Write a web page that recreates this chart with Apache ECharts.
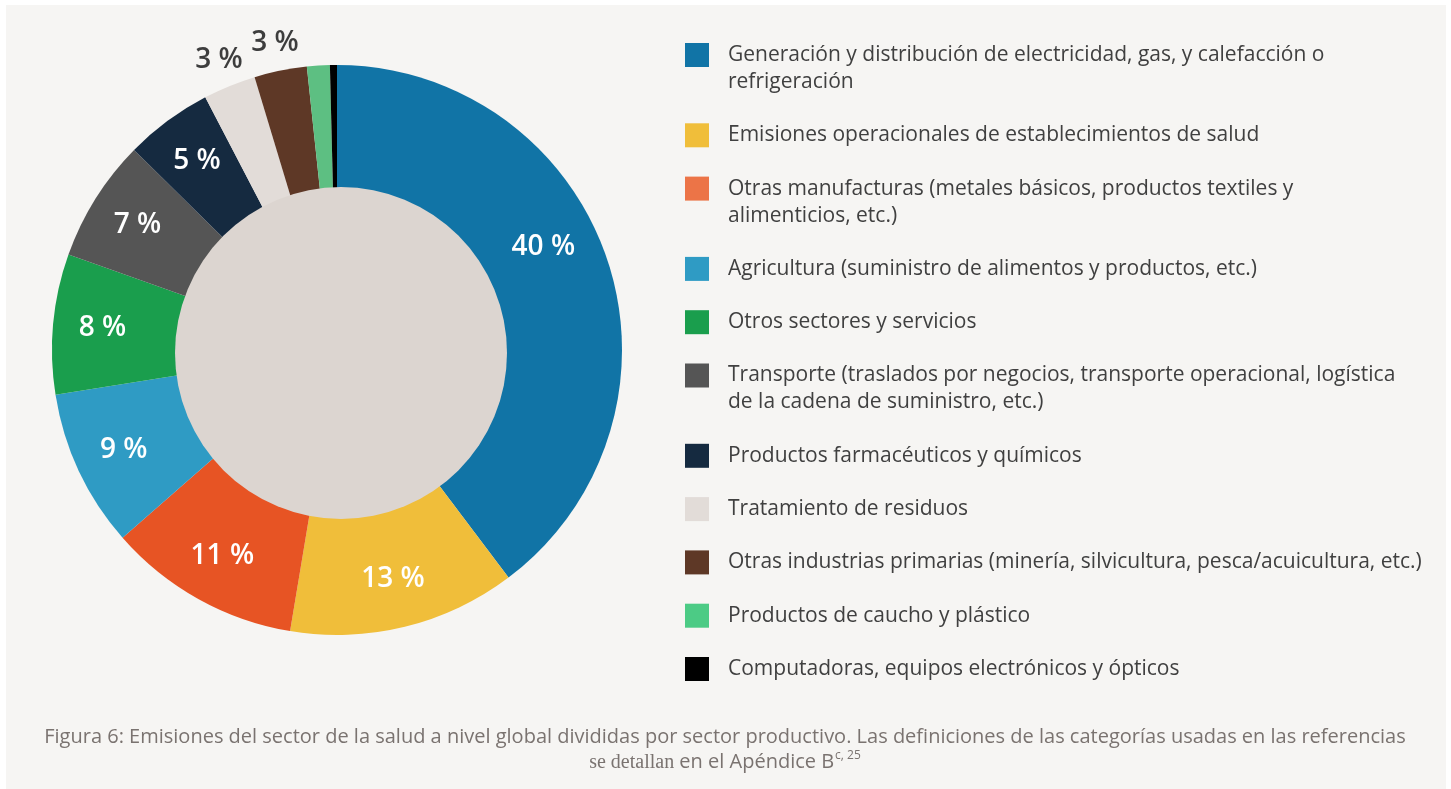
<!DOCTYPE html>
<html>
<head>
<meta charset="utf-8">
<script src="https://cdn.jsdelivr.net/npm/echarts@6/dist/echarts.min.js"></script>
<style>
  html, body { margin: 0; padding: 0; background: #ffffff; }
  #chart { position: absolute; left: 6px; top: 5px; width: 1440px; height: 784px; }
</style>
</head>
<body>
<div id="chart"></div>
<script>
// sectores (el salto de línea marca dónde corta la leyenda)
const sectors = [
  'Generación y distribución de electricidad, gas, y calefacción o\nrefrigeración',
  'Emisiones operacionales de establecimientos de salud',
  'Otras manufacturas (metales básicos, productos textiles y\nalimenticios, etc.)',
  'Agricultura (suministro de alimentos y productos, etc.)',
  'Otros sectores y servicios',
  'Transporte (traslados por negocios, transporte operacional, logística\nde la cadena de suministro, etc.)',
  'Productos farmacéuticos y químicos',
  'Tratamiento de residuos',
  'Otras industrias primarias (minería, silvicultura, pesca/acuicultura, etc.)',
  'Productos de caucho y plástico',
  'Computadoras, equipos electrónicos y ópticos'
];
// porcentaje de emisiones
const shares = [40, 13, 11, 9, 8, 7, 5, 3, 3, 1.3, 0.4];

const colors = ['#1174a6', '#f0be3a', '#e75424', '#2f9bc4', '#1a9e4d', '#555555',
  '#152a40', '#e2dcd8', '#5e3826', '#5dbf82', '#000000'];
// en la leyenda algunos cuadros salen un poco más claros
const legendColors = ['#1174a6', '#f0be3a', '#ec7447', '#2f9bc4', '#1a9e4d', '#555555',
  '#152a40', '#e2dcd8', '#5e3826', '#4ccb85', '#000000'];
// dónde va cada etiqueta: dentro del anillo, fuera, o sin etiqueta
const labelPlace = ['in', 'in', 'in', 'in', 'in', 'in', 'in', 'out', 'out', 'none', 'none'];

const cx = 331, cy = 345;
const textFont = 'Open Sans';
var myChart = echarts.init(document.getElementById('chart'));

function labelData(where, color) {
  return sectors.map(function (name, i) {
    var lbl = { show: labelPlace[i] === where, color: color };
    // el 40 % está algo más arriba que el centro del sector
    if (i === 0) {
      lbl.padding = [0, 34, 0, 0];
      lbl.formatter = '{c} %\n\n';
      lbl.lineHeight = 28;
    }
    return {
      name: name,
      value: shares[i],
      itemStyle: { color: 'rgba(0,0,0,0)' },
      label: lbl
    };
  });
}

const labelFont = { fontFamily: textFont, fontSize: 28, fontWeight: 600 };

// una leyenda por fila para que el cuadrado quede en la primera línea
var legends = [];
var yc = 55;
sectors.forEach(function (name, i) {
  var lines = name.split('\n').length;
  legends.push({
    data: [{ name: name, icon: 'rect', itemStyle: { color: legendColors[i] } }],
    orient: 'vertical',
    left: 679,
    top: yc - 5 - (lines > 1 ? 40.5 : 13.5),
    padding: 0,
    itemWidth: 24,
    itemHeight: 24,
    selectedMode: false,
    formatter: function (n) { return n.indexOf('\n') >= 0 ? '\n' + n : n; },
    textStyle: {
      fontFamily: textFont, fontSize: 21, color: '#404040',
      lineHeight: 27, padding: [0, 0, 0, 14]
    }
  });
  yc += 27 * lines + 26.3;
});

var option = {
  backgroundColor: '#f6f5f3',
  animation: false,
  title: {
    left: 714,
    top: 715,
    textAlign: 'center',
    text: 'Figura 6: Emisiones del sector de la salud a nivel global divididas por sector productivo. Las definiciones de las categorías usadas en las referencias\n' +
      '{serif|se detallan} en el Apéndice B{sup|c, 25}',
    textStyle: {
      fontFamily: textFont, fontSize: 20, fontWeight: 'normal', color: '#7a7370', lineHeight: 25,
      rich: {
        serif: { fontFamily: 'Liberation Serif', fontSize: 20, color: '#7a7370', lineHeight: 25 },
        sup: { fontFamily: textFont, fontSize: 12, color: '#7a7370', verticalAlign: 'top', lineHeight: 25, padding: [0, 0, 10, 1] }
      }
    }
  },
  legend: legends,
  series: [
    {
      type: 'pie',
      center: [cx, cy],
      radius: [0, 285],
      startAngle: 90,
      silent: true,
      z: 2,
      label: { show: false },
      labelLine: { show: false },
      data: sectors.map(function (name, i) {
        return { name: name, value: shares[i], itemStyle: { color: colors[i] } };
      })
    },
    {
      // círculo central
      type: 'pie',
      center: [335, 348],
      radius: [0, 166],
      silent: true,
      legendHoverLink: false,
      z: 3,
      label: { show: false },
      labelLine: { show: false },
      data: [{ name: 'centro', value: 1, itemStyle: { color: '#dcd5d0' } }]
    },
    {
      type: 'pie',
      center: [cx, cy],
      radius: [180, 285],
      startAngle: 90,
      silent: true,
      legendHoverLink: false,
      z: 4,
      label: Object.assign({ position: 'inside', formatter: '{c} %' }, labelFont),
      labelLine: { show: false },
      data: labelData('in', '#ffffff')
    },
    {
      type: 'pie',
      center: [cx, cy],
      radius: [285, 335],
      startAngle: 90,
      silent: true,
      legendHoverLink: false,
      z: 4,
      label: Object.assign({ position: 'inside', formatter: '{c} %' }, labelFont),
      labelLine: { show: false },
      data: labelData('out', '#3d3d3d')
    }
  ]
};

myChart.setOption(option);
</script>
</body>
</html>
